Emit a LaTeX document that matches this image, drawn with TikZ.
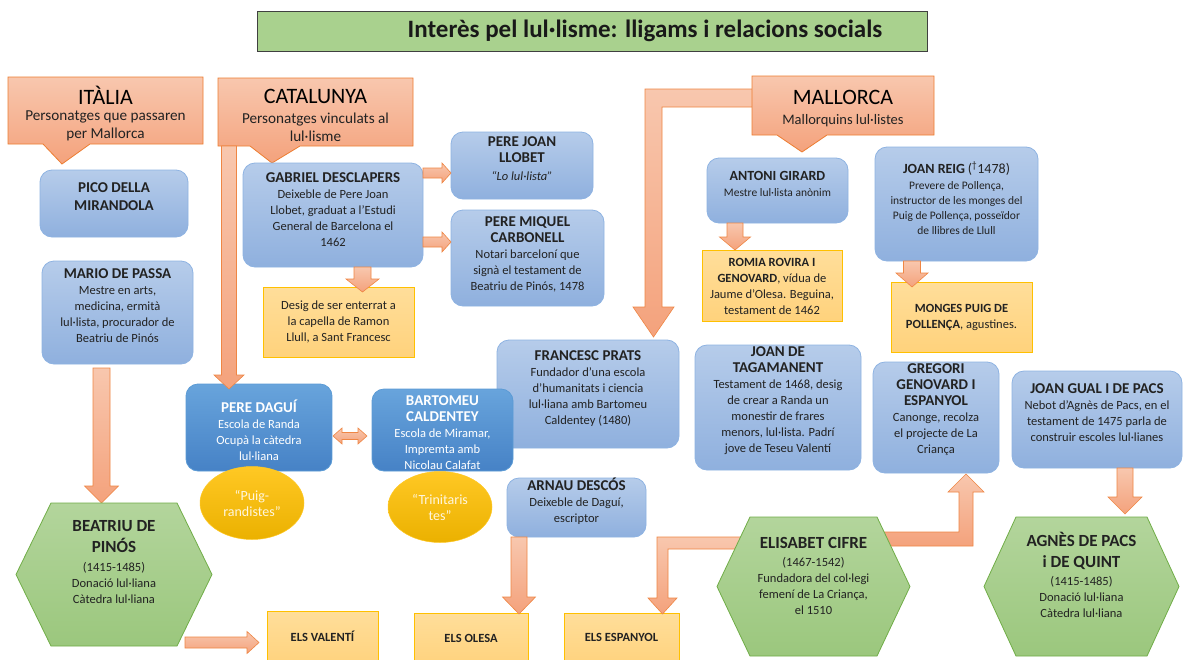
\documentclass[tikz,border=0pt]{standalone}
\usepackage{fontspec}
\setmainfont{Carlito}
\usetikzlibrary{calc,shapes.geometric}
\definecolor{orA}{HTML}{F8C7AE}
\definecolor{orB}{HTML}{F4A27C}
\definecolor{orL}{HTML}{ED7D31}
\definecolor{blA}{HTML}{B6CCEA}
\definecolor{blB}{HTML}{8FB0DE}
\definecolor{blL}{HTML}{8EB3E2}
\definecolor{dbA}{HTML}{68A4DC}
\definecolor{dbB}{HTML}{4682C6}
\definecolor{dbL}{HTML}{5B9BD5}
\definecolor{yeA}{HTML}{FFDE9A}
\definecolor{yeB}{HTML}{FFD27C}
\definecolor{yeL}{HTML}{FFC000}
\definecolor{goA}{HTML}{FFC824}
\definecolor{goB}{HTML}{EBB100}
\definecolor{grA}{HTML}{B3D59C}
\definecolor{grB}{HTML}{9BC77D}
\definecolor{grL}{HTML}{70AD47}
\definecolor{tiF}{HTML}{A9D18E}
\definecolor{txtc}{HTML}{222222}
\definecolor{cream}{HTML}{FFF6DE}
\newcommand\hdf{\bfseries\fontsize{15}{18}\selectfont}
\newcommand\hsf{\bfseries\fontsize{14}{17}\selectfont}
\newcommand\hxf{\bfseries\fontsize{17}{20}\selectfont}
% vertical down block arrow: #1 start, #2 target (y), #3 shaft half, #4 head half, #5 head length
\newcommand\vdown[5]{\path[blockarrow] ($(#1)+(-#3,0)$) -- ($(#1)+(#3,0)$) -- ($(#1 |- #2)+(#3,-#5)$) -- ($(#1 |- #2)+(#4,-#5)$) -- (#1 |- #2) -- ($(#1 |- #2)+(-#4,-#5)$) -- ($(#1 |- #2)+(-#3,-#5)$) -- cycle;}
% horizontal right block arrow
\newcommand\hright[5]{\path[blockarrow] ($(#1)+(0,-#3)$) -- ($(#2 |- #1)+(-#5,-#3)$) -- ($(#2 |- #1)+(-#5,-#4)$) -- (#2 |- #1) -- ($(#2 |- #1)+(-#5,#4)$) -- ($(#2 |- #1)+(-#5,#3)$) -- ($(#1)+(0,#3)$) -- cycle;}
\newcommand\hexa[2]{\path[hexbox] (#1.west) -- ($(#1.north west)+(#2,0)$) -- ($(#1.north east)+(-#2,0)$) -- (#1.east) -- ($(#1.south east)+(-#2,0)$) -- ($(#1.south west)+(#2,0)$) -- cycle;}
\begin{document}
\begin{tikzpicture}[x=1pt,y=-1pt,
  every node/.style={inner sep=0pt, outer sep=0pt},
  sz/.style 2 args={minimum width=#1pt, minimum height=#2pt},
  bluebox/.style={draw=blL, line width=0.8pt, rounded corners=12pt, top color=blA, bottom color=blB},
  dbluebox/.style={draw=dbL, line width=0.8pt, rounded corners=12pt, top color=dbA, bottom color=dbB},
  yelbox/.style={draw=yeL, line width=0.8pt, top color=yeA, bottom color=yeB},
  goldell/.style={ellipse, top color=goA, bottom color=goB, draw=goA, line width=0.5pt},
  hexbox/.style={top color=grA, bottom color=grB, draw=grL, line width=0.8pt},
  callbox/.style={top color=orA, bottom color=orB, draw=orL, line width=0.8pt},
  blockarrow/.style={top color=orA, bottom color=orB, draw=orL!75!orB, line width=0.6pt},
  txt/.style={align=center, font=\fontsize{12.5}{16}\selectfont, text=txtc},
  smalltxt/.style={align=center, font=\fontsize{11.5}{15}\selectfont, text=txtc},
  hdtxt/.style={align=center, font=\bfseries\fontsize{15}{18}\selectfont, text=txtc},
  wtxt/.style={align=center, font=\fontsize{12.5}{16}\selectfont, text=white},
  elltxt/.style={align=center, font=\fontsize{14}{16}\selectfont, text=cream},
  ctitle/.style={font=\fontsize{22}{26}\selectfont, text=black},
  csub/.style={align=center, font=\fontsize{15.2}{18}\selectfont, text=txtc}
]
\useasboundingbox (0,0) rectangle (1184,659);
\fill[white] (0,0) rectangle (1184,659);

% title
\node[sz={670}{40}, fill=tiF, draw=black!75, line width=0.8pt] (title) at (592,31) {};
\node[font=\bfseries\fontsize{25}{28}\selectfont, text=black!90] (titleT) at (645,31) {Interès pel lul·lisme: lligams i relacions socials};

% big Mallorca arrow (behind callout)
\node[sz={182}{59}] (mallorca) at (843,105.5) {};
\node[sz={182}{108}, bluebox] (prats) at (588,394) {};
\coordinate (m1) at ($(mallorca.north west)+(1,13)$);
\coordinate (m2) at ($(mallorca.north west)+(1,31)$);
\coordinate (mt) at ($(prats.north)+(65.5,-3)$);
\path[blockarrow] (m1) -- ($(mt |- m1)+(-8.5,0)$) -- ($(mt)+(-8.5,-30)$) -- ($(mt)+(-20.5,-30)$) -- (mt) -- ($(mt)+(20.5,-30)$) -- ($(mt)+(8.5,-30)$) -- ($(mt |- m2)+(8.5,0)$) -- (m2) -- cycle;

% callouts
\node[sz={195}{67}] (italia) at (105.5,110.5) {};
\path[callbox] (italia.north west) -- (italia.north east) -- (italia.south east) -- ($(italia.south west)+(82,0)$) -- ($(italia.south west)+(54,20)$) -- ($(italia.south west)+(35,0)$) -- (italia.south west) -- cycle;
\node[ctitle] (italiaT) at (105.5,95) {ITÀLIA};
\node[csub] (italiaS) at (105.5,126) {Personatges que passaren\\per Mallorca};

\node[sz={195}{68}] (catalunya) at (315.5,112) {};
\path[callbox] (catalunya.north west) -- (catalunya.north east) -- (catalunya.south east) -- ($(catalunya.south west)+(82,0)$) -- ($(catalunya.south west)+(54,17)$) -- ($(catalunya.south west)+(32,0)$) -- (catalunya.south west) -- cycle;
\node[ctitle] (catalunyaT) at (315.5,96) {CATALUNYA};
\node[csub] (catalunyaS) at (315.5,127) {Personatges vinculats al\\lul·lisme};

\path[callbox] (mallorca.north west) -- (mallorca.north east) -- (mallorca.south east) -- ($(mallorca.south west)+(75,0)$) -- ($(mallorca.south west)+(50,17)$) -- ($(mallorca.south west)+(25,0)$) -- (mallorca.south west) -- cycle;
\node[ctitle] (mallorcaT) at (843,97) {MALLORCA};
\node[csub, font=\fontsize{14.5}{18}\selectfont] (mallorcaS) at (843,121) {Mallorquins lul·listes};

% blue boxes
\node[sz={148}{67}, bluebox] (pico) at (114,203.5) {};
\node[hdtxt] (picoT) at (114,197) {PICO DELLA\\MIRANDOLA};
\node[sz={151}{103}, bluebox] (mario) at (117.5,312.5) {};
\node[txt] (marioT) at (117.5,306) {{\hdf MARIO DE PASSA}\\Mestre en arts,\\medicina, ermità\\lul·lista, procurador de\\Beatriu de Pinós};

\node[sz={180}{104}, bluebox] (gabriel) at (333,215) {};
\node[txt] (gabrielT) at (333,210) {{\hdf GABRIEL DESCLAPERS}\\Deixeble de Pere Joan\\Llobet, graduat a l’Estudi\\General de Barcelona el\\1462};
\node[sz={142}{67}, bluebox] (llobet) at (522,165.5) {};
\node[txt] (llobetT) at (522,159) {{\hdf PERE JOAN}\\{\hdf LLOBET}\\[2pt]\textit{“Lo lul·lista”}};
\node[sz={153}{96}, bluebox] (carbonell) at (527.5,258) {};
\node[txt] (carbonellT) at (527.5,254) {{\hdf PERE MIQUEL}\\{\hdf CARBONELL}\\Notari barceloní que\\signà el testament de\\Beatriu de Pinós, 1478};
\node[sz={151}{70}, yelbox] (desig) at (338.5,322) {};
\node[txt] (desigT) at (338.5,322) {Desig de ser enterrat a\\la capella de Ramon\\Llull, a Sant Francesc};

\node[sz={146}{87}, dbluebox] (dagui) at (259,427.5) {};
\node[wtxt] (daguiT) at (259,430) {{\hdf PERE DAGUÍ}\\Escola de Randa\\Ocupà la càtedra\\lul·liana};
\node[sz={141}{82}, dbluebox] (caldentey) at (442.5,430) {};
\node[wtxt] (caldenteyT) at (442.5,433) {{\hdf BARTOMEU}\\{\hdf CALDENTEY}\\Escola de Miramar,\\Impremta amb\\Nicolau Calafat};
\node[goldell, minimum width=104pt, minimum height=73pt] (puig) at (252,503) {};
\node[elltxt] (puigT) at (252,503) {“Puig-\\randistes”};
\node[goldell, minimum width=104pt, minimum height=71pt] (trini) at (440,507) {};
\node[elltxt] (triniT) at (440,507) {“Trinitaris\\tes”};

\node[txt] (pratsT) at (588,389) {{\hdf FRANCESC PRATS}\\Fundador d’una escola\\d’humanitats i ciencia\\lul·liana amb Bartomeu\\Caldentey (1480)};
\node[sz={166}{125}, bluebox] (tagamanent) at (778,407.5) {};
\node[txt] (tagamanentT) at (778,401) {{\hdf JOAN DE}\\{\hdf TAGAMANENT}\\Testament de 1468, desig\\de crear a Randa un\\monestir de frares\\menors, lul·lista. Padrí\\jove de Teseu Valentí};
\node[sz={139}{59}, bluebox] (arnau) at (576.5,507.5) {};
\node[txt] (arnauT) at (576.5,501) {{\hdf ARNAU DESCÓS}\\Deixeble de Daguí,\\escriptor};
\node[sz={126}{111}, bluebox] (gregori) at (936,417.5) {};
\node[txt] (gregoriT) at (936,410) {{\hdf GREGORI}\\{\hdf GENOVARD I}\\{\hdf ESPANYOL}\\Canonge, recolza\\el projecte de La\\Criança};
\node[sz={170}{97}, bluebox] (gual) at (1097,419.5) {};
\node[txt] (gualT) at (1097,413) {{\hdf JOAN GUAL I DE PACS}\\Nebot d’Agnès de Pacs, en el\\testament de 1475 parla de\\construir escoles lul·lianes};

\node[sz={141}{65}, bluebox] (girard) at (777.5,190.5) {};
\node[smalltxt] (girardT) at (777.5,184) {{\hsf ANTONI GIRARD}\\[1pt]Mestre lul·lista anònim};
\node[sz={140}{71}, yelbox] (romia) at (772,285.5) {};
\node[txt] (romiaT) at (772,286) {\textbf{ROMIA ROVIRA I}\\\textbf{GENOVARD}, vídua de\\Jaume d’Olesa. Beguina,\\testament de 1462};
\node[sz={163}{114}, bluebox] (reig) at (956.5,204) {};
\node[smalltxt] (reigT) at (956.5,198) {{\hsf JOAN REIG} {\fontsize{14}{17}\selectfont(\textsuperscript{†}1478)}\\[1pt]Prevere de Pollença,\\instructor de les monges del\\Puig de Pollença, posseïdor\\de llibres de Llull};
\node[sz={141}{70}, yelbox] (monges) at (961.5,317) {};
\node[txt] (mongesT) at (961.5,317) {\textbf{MONGES PUIG DE}\\\textbf{POLLENÇA}, agustines.};

% yellow bottom boxes (running off the lower edge)
\node[sz={111}{56}, yelbox] (valenti) at (322.5,639) {};
\node[txt, font=\bfseries\fontsize{12.5}{16}\selectfont] (valentiT) at (322.5,636) {ELS VALENTÍ};
\node[sz={114}{54}, yelbox] (olesa) at (471,640) {};
\node[txt, font=\bfseries\fontsize{12.5}{16}\selectfont] (olesaT) at (471,638) {ELS OLESA};
\node[sz={115}{54}, yelbox] (espanyol) at (621.5,640) {};
\node[txt, font=\bfseries\fontsize{12.5}{16}\selectfont] (espanyolT) at (621.5,637) {ELS ESPANYOL};

% hexagon placeholders
\node[sz={196}{143}] (beatriu) at (114,574.5) {};
\node[sz={193}{139}] (elisabet) at (813.5,586.5) {};
\node[sz={195}{139}] (agnes) at (1081.5,586.5) {};

% arrows
\coordinate (a1s) at ($(catalunya.south west)+(11,0)$);
\coordinate (a1t) at ($(dagui.north)+(0,5)$);
\vdown{a1s}{a1t}{7.5}{15}{14}
\coordinate (a2s) at ($(mario.south)+(-16,4)$);
\coordinate (a2t) at (beatriu.north);
\vdown{a2s}{a2t}{8.5}{17}{17}
\coordinate (a3s) at ($(beatriu.south east)+(-27,-3.5)$);
\coordinate (a3t) at ($(valenti.west)+(-8,0)$);
\hright{a3s}{a3t}{5.5}{11}{12}
\coordinate (a4s) at ($(gabriel.north east)+(0,10)$);
\coordinate (a4t) at (llobet.west);
\hright{a4s}{a4t}{5}{10}{9}
\coordinate (a5s) at ($(gabriel.north east)+(0,79)$);
\coordinate (a5t) at (carbonell.west);
\hright{a5s}{a5t}{5}{10}{9}
\coordinate (a6s) at ($(gabriel.south)+(29.5,0)$);
\coordinate (a6t) at ($(desig.north)+(0,5)$);
\vdown{a6s}{a6t}{8.5}{16.5}{13}
\coordinate (d1) at ($(dagui.east)+(1,8.5)$);
\coordinate (d2) at ($(d1 -| caldentey.west)+(-5,0)$);
\path[blockarrow] (d1) -- ($(d1)+(9,-8)$) -- ($(d1)+(9,-3.5)$) -- ($(d2)+(-9,-3.5)$) -- ($(d2)+(-9,-8)$) -- (d2) -- ($(d2)+(-9,8)$) -- ($(d2)+(-9,3.5)$) -- ($(d1)+(9,3.5)$) -- ($(d1)+(9,8)$) -- cycle;
\coordinate (a9s) at ($(arnau.south west)+(12,0)$);
\coordinate (a9t) at ($(olesa.north)+(0,1)$);
\vdown{a9s}{a9t}{8}{16.5}{17}
\coordinate (a12s) at ($(gual.south)+(28,0)$);
\coordinate (a12t) at ($(agnes.north)+(0,-3)$);
\vdown{a12s}{a12t}{8}{17}{17}
\coordinate (a13s) at ($(girard.south west)+(28,0)$);
\coordinate (a13t) at (romia.north);
\vdown{a13s}{a13t}{8}{15.5}{13}
\coordinate (a14s) at ($(reig.south west)+(37,0)$);
\coordinate (a14t) at ($(monges.north)+(0,5)$);
\vdown{a14s}{a14t}{8.5}{16}{14}

% Elisabet bent arrows (behind hexagon)
\coordinate (e1) at ($(elisabet.north west)+(30,20)$);
\coordinate (e2) at ($(elisabet.north west)+(30,32)$);
\coordinate (et) at ($(espanyol.north)+(41,1)$);
\path[blockarrow] (e1) -- ($(et |- e1)+(-5.5,0)$) -- ($(et)+(-5.5,-16)$) -- ($(et)+(-14.5,-16)$) -- (et) -- ($(et)+(14.5,-16)$) -- ($(et)+(5.5,-16)$) -- ($(et |- e2)+(5.5,0)$) -- (e2) -- cycle;
\coordinate (g1) at ($(elisabet.north east)+(-32,15)$);
\coordinate (g2) at ($(elisabet.north east)+(-32,29)$);
\coordinate (gt) at ($(gregori.south)+(30,1)$);
\path[blockarrow] (g1) -- ($(gt |- g1)+(-7,0)$) -- ($(gt)+(-7,18)$) -- ($(gt)+(-18,18)$) -- (gt) -- ($(gt)+(18,18)$) -- ($(gt)+(7,18)$) -- ($(gt |- g2)+(7,0)$) -- (g2) -- cycle;

% hexagons
\hexa{beatriu}{35}
\node[txt] (beatriuT) at (114,562) {{\hxf BEATRIU DE}\\[5pt]{\hxf PINÓS}\\[3pt](1415-1485)\\Donació lul·liana\\Càtedra lul·liana};
\hexa{elisabet}{33}
\node[txt] (elisabetT) at (813.5,576) {{\hxf ELISABET CIFRE}\\[2pt](1467-1542)\\Fundadora del col·legi\\femení de La Criança,\\el 1510};
\hexa{agnes}{32}
\node[txt] (agnesT) at (1081.5,575) {{\hxf AGNÈS DE PACS}\\[5pt]{\hxf i DE QUINT}\\[2pt](1415-1485)\\Donació lul·liana\\Càtedra lul·liana};
\end{tikzpicture}
\end{document}
